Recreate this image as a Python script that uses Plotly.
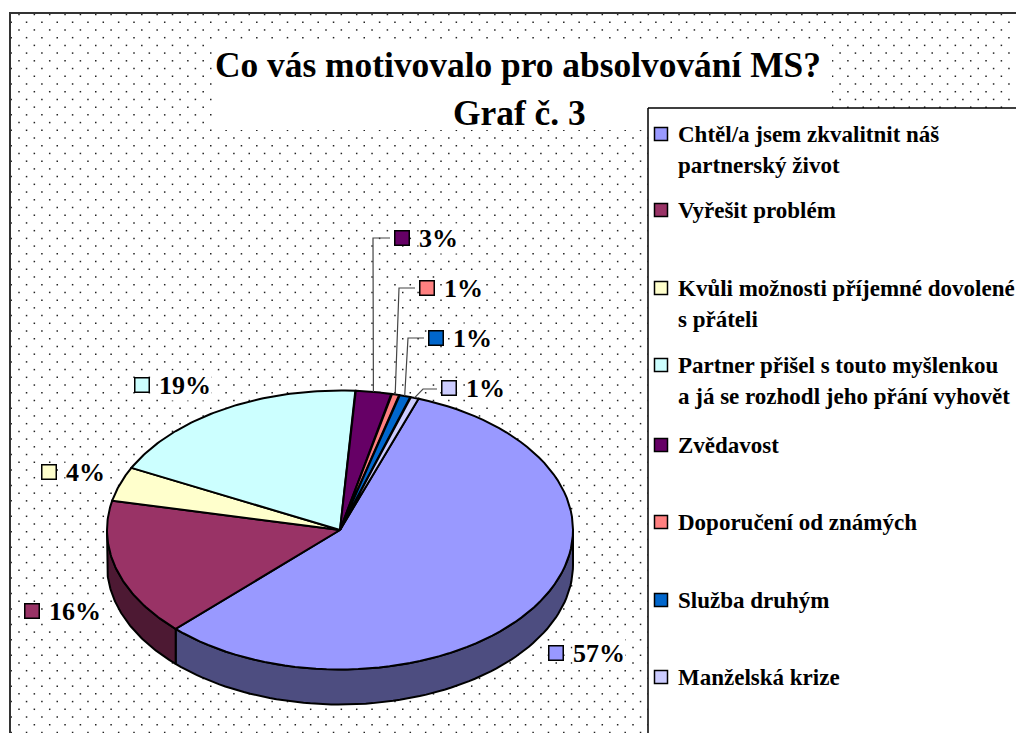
"""
    Pie chart with depth: Co vás motivovalo pro absolvování MS? (Graf č. 3)
"""

import numpy as np
import plotly.graph_objects as go

TITLE_LINES = ["Co vás motivovalo pro absolvování MS?", "Graf č. 3"]

CATEGORIES = [
    "Chtěl/a jsem zkvalitnit náš\npartnerský život",
    "Vyřešit problém",
    "Kvůli možnosti příjemné dovolené\ns přáteli",
    "Partner přišel s touto myšlenkou\na já se rozhodl jeho přání vyhovět",
    "Zvědavost",
    "Doporučení od známých",
    "Služba druhým",
    "Manželská krize",
]
SHARES = [57.3, 16.0, 4.0, 18.8, 2.5, 0.55, 0.8, 0.6]
LABELS = ["57%", "16%", "4%", "19%", "3%", "1%", "1%", "1%"]
COLORS = ["#9999FF", "#993366", "#FFFFCC", "#CCFFFF", "#660066", "#FF8080", "#0066CC", "#CCCCFF"]
SIDE_COLORS = ["#4D4D80", "#4D1933"]

# layout, in pixels of the 1016x733 page
W, H = 1016, 733
CX, CY, RX, RY, DEPTH = 340, 530, 233, 139.5, 35
START_DEG = 19.7
FONT = "Liberation Serif"
LABEL_POS = [(556, 653), (32, 611), (49, 472), (142, 385), (402, 238), (427, 288), (436, 338), (449, 388)]
LEADER_CORNER = {4: (373, 238), 5: (399, 288), 6: (408, 338), 7: (423, 389)}
LEGEND_Y = [134, 210, 288, 365, 445, 522, 600, 677]
LEGEND_LINE_STEP = 31.5


def rim(t_deg, dy=0):
    """Point(s) on the pie rim, t_deg is clockwise from the top"""
    t = np.radians(t_deg)
    return CX + RX * np.sin(t), CY - RY * np.cos(t) + dy


def polygon(xs, ys, fill, line_color="black", line_width=2):
    return go.Scatter(x=list(xs), y=list(ys), mode="lines", fill="toself", fillcolor=fill,
                      line={"color": line_color, "width": line_width},
                      hoverinfo="skip", showlegend=False)


def rect(x0, y0, x1, y1, fill="white", **kw):
    return polygon([x0, x1, x1, x0, x0], [y0, y0, y1, y1, y0], fill, **kw)


data = []

# dotted background
dots_x, dots_y = [], []
for row, y in enumerate(np.arange(14.5, H, 7.72)):
    offset = 19 if row % 2 == 0 else 11.2
    xs = np.arange(offset, W, 15.35)
    dots_x.extend(xs)
    dots_y.extend([y] * len(xs))
data.append(go.Scatter(x=dots_x, y=dots_y, mode="markers",
                       marker={"color": "#222222", "size": 1.5, "symbol": "square"},
                       hoverinfo="skip", showlegend=False))

# frame, title box, legend box
data.append(go.Scatter(x=[10, 10, W + 5], y=[H + 5, 13, 13], mode="lines",
                       line={"color": "#333333", "width": 2}, hoverinfo="skip", showlegend=False))
data.append(rect(212, 43, 832, 130, line_color="white", line_width=0))
data.append(rect(648, 108, W + 5, H + 5, line_width=1.5))

# slice angles come from the shares
total = sum(SHARES)
edges = START_DEG + np.cumsum([0] + SHARES) / total * 360

# side wall: only the front half of the pie shows it
for i, color in enumerate(SIDE_COLORS):
    a0, a1 = max(edges[i], 90), min(edges[i + 1], 270)
    t = np.linspace(a0, a1, 80)
    tx, ty = rim(t)
    bx, by = rim(t[::-1], DEPTH)
    data.append(polygon(np.r_[tx, bx, tx[0]], np.r_[ty, by, ty[0]], color))

# top face
for i, color in enumerate(COLORS):
    t = np.linspace(edges[i], edges[i + 1], 80)
    rx_, ry_ = rim(t)
    data.append(polygon(np.r_[CX, rx_, CX], np.r_[CY, ry_, CY], color))

annotations = []


def add_text(x, y, text, size, anchor="left", bg=None):
    annotations.append(dict(x=x, y=y, xref="x", yref="y", text="<b>%s</b>" % text, showarrow=False,
                            xanchor=anchor, yanchor="middle", bgcolor=bg, borderpad=0,
                            font={"family": FONT, "size": size, "color": "black"}))


# leader lines for the small slices
for i, corner in LEADER_CORNER.items():
    mx, my = rim((edges[i] + edges[i + 1]) / 2)
    sx = LABEL_POS[i][0]
    data.append(go.Scatter(x=[mx, corner[0], sx - 12], y=[my, corner[1], corner[1]], mode="lines",
                           line={"color": "#444444", "width": 1.2},
                           hoverinfo="skip", showlegend=False))

# data labels
for i, (lx, ly) in enumerate(LABEL_POS):
    add_text(lx + 16, ly, LABELS[i], 26, bg="white")
data.append(go.Scatter(x=[p[0] for p in LABEL_POS], y=[p[1] for p in LABEL_POS], mode="markers",
                       marker={"symbol": "square", "size": 14.5, "color": COLORS,
                               "line": {"color": "black", "width": 1.5}},
                       hoverinfo="skip", showlegend=False))

# legend
data.append(go.Scatter(x=[661] * len(LEGEND_Y), y=LEGEND_Y, mode="markers",
                       marker={"symbol": "square", "size": 13, "color": COLORS,
                               "line": {"color": "black", "width": 1.5}},
                       hoverinfo="skip", showlegend=False))
for cat, y in zip(CATEGORIES, LEGEND_Y):
    for j, line in enumerate(cat.split("\n")):
        add_text(677, y + j * LEGEND_LINE_STEP, line, 23)

add_text(518, 65, TITLE_LINES[0], 35.4, anchor="center")
add_text(519, 113, TITLE_LINES[1], 35.4, anchor="center")

fig = go.Figure(data=data)
fig.update_layout(
    width=W, height=H, margin={"l": 0, "r": 0, "t": 0, "b": 0},
    paper_bgcolor="white", plot_bgcolor="white", showlegend=False,
    xaxis={"range": [0, W], "visible": False, "fixedrange": True},
    yaxis={"range": [H, 0], "visible": False, "fixedrange": True},
    annotations=annotations,
)
fig.write_html("out.html", config={"displayModeBar": False},
               post_script="document.body.style.margin='0';")
